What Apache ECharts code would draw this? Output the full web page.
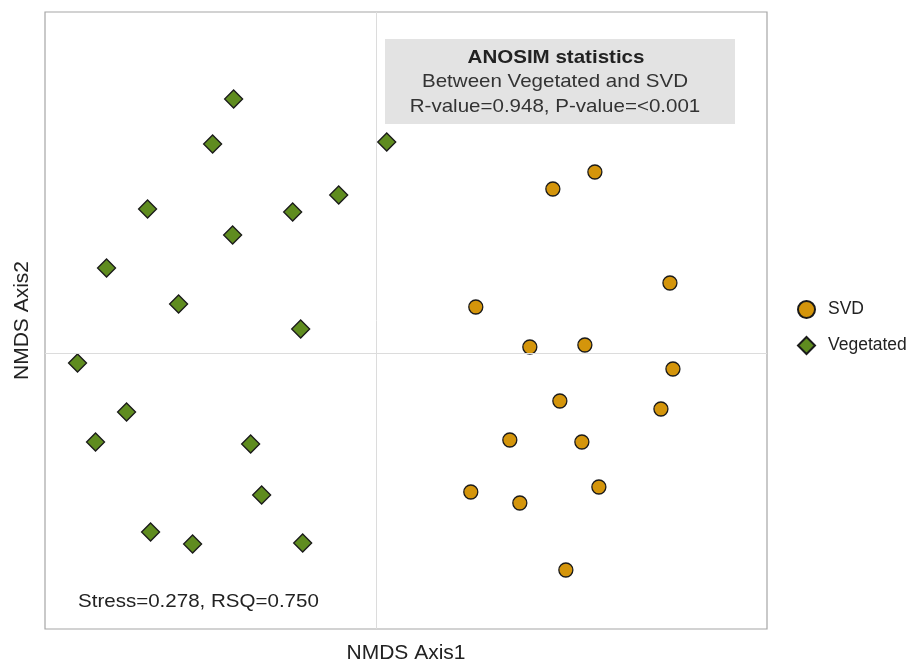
<!DOCTYPE html>
<html>
<head>
<meta charset="utf-8">
<script src="https://cdn.jsdelivr.net/npm/echarts@6/dist/echarts.min.js"></script>
<style>html,body{margin:0;padding:0;background:#fff}#c{width:912px;height:662px}</style>
</head>
<body>
<div id="c"></div>
<script>
// NMDS coordinates (arbitrary units)
const svdX = [2.18, 1.76, 2.93, 0.99, 1.53, 2.08, 2.96, 1.83, 2.84, 1.33, 2.05, 0.94, 1.43, 2.22, 1.89];
const svdY = [1.81, 1.64, 0.70, 0.46, 0.06, 0.08, -0.16, -0.48, -0.56, -0.87, -0.89, -1.39, -1.50, -1.34, -2.17];
const vegX = [-1.43, -1.64, 0.10, -2.29, -1.44, -0.84, -0.38, -2.70, -1.98, -0.76, -2.99, -2.50, -2.81, -1.26, -1.15, -2.26, -1.84, -0.74];
const vegY = [2.54, 2.09, 2.11, 1.44, 1.18, 1.41, 1.58, 0.85, 0.49, 0.24, -0.10, -0.59, -0.89, -0.91, -1.42, -1.79, -1.91, -1.90];
const seriesNames = ['SVD', 'Vegetated'];
const axisNames = ['NMDS Axis1', 'NMDS Axis2'];
const statsLines = ['ANOSIM statistics', 'Between Vegetated and SVD', 'R-value=0.948, P-value=<0.001'];
const stressText = 'Stress=0.278, RSQ=0.750';

const chart = echarts.init(document.getElementById('c'));
const font = '"Liberation Sans", Arial, sans-serif';
const pair = (xs, ys) => xs.map((x, i) => [x, ys[i]]);
const sx = 1.11;
chart.setOption({
  animation: false,
  textStyle: {fontFamily: font},
  grid: {left: 45, top: 12, right: 145, bottom: 33, outerBoundsMode: 'none', containLabel: false,
         show: true, borderColor: '#a6a6a6', borderWidth: 1.2, backgroundColor: 'transparent'},
  xAxis: {
    type: 'value', min: -3.315, max: 3.9,
    name: axisNames[0], nameLocation: 'middle', nameGap: 14,
    nameTextStyle: {fontSize: 21, color: '#222', fontFamily: font, verticalAlign: 'top'},
    axisLine: {show: false}, axisTick: {show: false}, axisLabel: {show: false}, splitLine: {show: false}
  },
  yAxis: {
    type: 'value', min: -2.76, max: 3.41,
    name: axisNames[1], nameLocation: 'middle', nameGap: 12,
    nameTextStyle: {fontSize: 21, color: '#222', fontFamily: font},
    axisLine: {show: false}, axisTick: {show: false}, axisLabel: {show: false}, splitLine: {show: false}
  },
  legend: {
    orient: 'vertical', left: 797, top: 300, padding: 0, itemGap: 17, itemWidth: 17, itemHeight: 17,
    textStyle: {fontSize: 17.5, color: '#222', fontFamily: font, padding: [0, 0, 0, 8]},
    data: seriesNames
  },
  series: [
    {
      name: seriesNames[0], type: 'scatter', symbol: 'circle', symbolSize: 14,
      itemStyle: {color: '#d4950b', borderColor: '#1a1a1a', borderWidth: 1.3, opacity: 1},
      data: pair(svdX, svdY),
      z: 3,
      markLine: {
        silent: true, symbol: 'none', label: {show: false},
        lineStyle: {color: '#dcdcdc', width: 1, type: 'solid'},
        data: [{xAxis: 0}, {yAxis: 0}]
      }
    },
    {
      name: seriesNames[1], type: 'scatter', symbol: 'diamond', symbolSize: 18,
      itemStyle: {color: '#5f8c1f', borderColor: '#1a1a1a', borderWidth: 1.3, opacity: 1},
      data: pair(vegX, vegY),
      z: 3
    }
  ],
  graphic: [
    {type: 'rect', shape: {x: 385, y: 39, width: 350, height: 85}, style: {fill: '#e3e3e3'}, z: 1},
    {type: 'text', x: 556, y: 58, scaleX: sx, style: {text: statsLines[0], font: 'bold 18.5px ' + font, fill: '#222', textAlign: 'center', textVerticalAlign: 'middle'}, z: 2},
    {type: 'text', x: 555, y: 82, scaleX: sx, style: {text: statsLines[1], font: '18.5px ' + font, fill: '#333', textAlign: 'center', textVerticalAlign: 'middle'}, z: 2},
    {type: 'text', x: 555, y: 107, scaleX: sx, style: {text: statsLines[2], font: '18.5px ' + font, fill: '#333', textAlign: 'center', textVerticalAlign: 'middle'}, z: 2},
    {type: 'text', x: 78, y: 602, scaleX: sx, style: {text: stressText, font: '18.5px ' + font, fill: '#222', textAlign: 'left', textVerticalAlign: 'middle'}, z: 2}
  ]
});
</script>
</body>
</html>
